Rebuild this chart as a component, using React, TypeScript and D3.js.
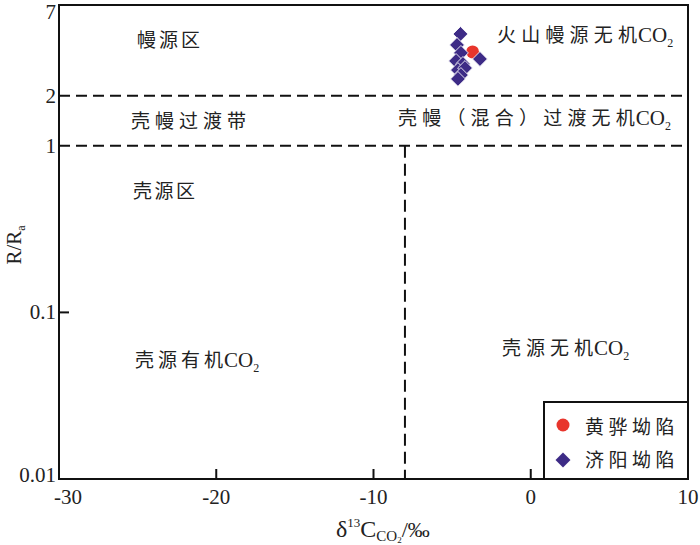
import React from "react";
import * as d3 from "d3";

const xTickValues = [-30, -20, -10, 0, 10];
const yTickValues = [7, 2, 1, 0.1, 0.01];
const yTickLabels = ["7", "2", "1", "0.1", "0.01"];
const horizBoundaries = [2, 1];
const vertBoundary = -8;

const huanghuaD13C = [-3.7];
const huanghuaR = [3.66];

const jiyangD13C = [-4.47, -4.69, -4.44, -4.75, -4.31, -4.63, -4.18, -4.44, -4.63, -3.23];
const jiyangR = [4.69, 4.03, 3.61, 3.23, 3.1, 2.85, 2.93, 2.66, 2.52, 3.32];

const legendNames = ["黄骅坳陷", "济阳坳陷"];

const W = 700;
const H = 545;
const L = 59, R = 688, T = 5, B = 479;

const CJK = "'Noto Sans CJK SC', 'Noto Sans', sans-serif";
const SERIF = "'Liberation Serif', 'DejaVu Serif', serif";
const PURPLE = "#3d2b86";
const RED = "#e8352c";

function Label({ x, y, text, co2, ls }: { x: number; y: number; text: string; co2?: boolean; ls: number }) {
  const head = text.slice(0, -1);
  const last = text.slice(-1);
  return (
    <text x={x} y={y} fill="#222">
      <tspan fontFamily={CJK} fontSize={19} letterSpacing={ls}>{head}</tspan>
      <tspan fontFamily={CJK} fontSize={19}>{last}</tspan>
      {co2 && <tspan fontFamily={SERIF} fontSize={21} dx={1}>CO</tspan>}
      {co2 && <tspan fontFamily={SERIF} fontSize={12} dy={5}>2</tspan>}
    </text>
  );
}

export default function App() {
  const x = d3.scaleLinear().domain([-30, 10]).range([L, R]);
  const y = d3.scaleLog().domain([0.01, 7]).range([B, T]);
  const diamond = d3.symbol().type(d3.symbolSquare).size(110)();
  const diamondLeg = d3.symbol().type(d3.symbolSquare).size(112)();

  const jiyang = jiyangD13C.map((v, i) => ({ x: v, y: jiyangR[i] }));
  const huanghua = huanghuaD13C.map((v, i) => ({ x: v, y: huanghuaR[i] }));

  const dash = "11,6";

  return (
    <svg width={W} height={H} style={{ position: "absolute", left: 0, top: 0, background: "#fff" }}>
      <rect x={0} y={0} width={W} height={H} fill="#fff" />
      {horizBoundaries.map((v) => (
        <line key={v} x1={L} x2={R} y1={y(v)} y2={y(v)} stroke="#111" strokeWidth={2} strokeDasharray={dash} />
      ))}
      <line x1={x(vertBoundary)} x2={x(vertBoundary)} y1={y(1)} y2={B} stroke="#111" strokeWidth={2} strokeDasharray="12,6" />

      {xTickValues.slice(1, -1).map((v) => (
        <line key={v} x1={x(v)} x2={x(v)} y1={B} y2={B - 10} stroke="#111" strokeWidth={2} />
      ))}
      <line x1={L} x2={L + 10} y1={y(0.1)} y2={y(0.1)} stroke="#111" strokeWidth={2} />

      <rect x={L} y={T} width={R - L} height={B - T} fill="none" stroke="#111" strokeWidth={2} />

      {xTickValues.map((v, i) => (
        <text key={v} x={x(v) + (i === 0 ? 9 : 0)} y={504} textAnchor="middle" fontFamily={SERIF} fontSize={21} fill="#222">
          {v}
        </text>
      ))}
      {yTickValues.map((v, i) => (
        <text key={v} x={L - 3} y={y(v) + (i === 0 ? 14 : i === 4 ? 3 : 7)} textAnchor="end" fontFamily={SERIF} fontSize={21} fill="#222">
          {yTickLabels[i]}
        </text>
      ))}

      <text transform={`translate(21,245) rotate(-90)`} textAnchor="middle" fontFamily={SERIF} fontSize={21} fill="#222">
        R/R<tspan fontSize={12} dy={4}>a</tspan>
      </text>
      <text x={336} y={537} fontFamily={SERIF} fontSize={24} fill="#222">
        δ<tspan fontSize={13} dy={-10}>13</tspan>
        <tspan fontSize={24} dy={10}>C</tspan>
        <tspan fontSize={15} dy={4}>CO</tspan>
        <tspan fontSize={9} dy={2}>2</tspan>
        <tspan fontSize={22} dy={-6}>/‰</tspan>
      </text>

      <Label x={137} y={47} text="幔源区" ls={3} />
      <Label x={497} y={42} text="火山幔源无机" co2 ls={5.2} />
      <Label x={131} y={128} text="壳幔过渡带" ls={5} />
      <Label x={398} y={125} text="壳幔（混合）过渡无机" co2 ls={5.2} />
      <Label x={133} y={198} text="壳源区" ls={2.5} />
      <Label x={135} y={367} text="壳源有机" co2 ls={4} />
      <Label x={502} y={355} text="壳源无机" co2 ls={5} />

      {huanghua.map((d, i) => (
        <circle key={"h" + i} cx={x(d.x)} cy={y(d.y)} r={6.5} fill={RED} />
      ))}
      {jiyang.map((d, i) => (
        <path key={"j" + i} d={diamond as string} transform={`translate(${x(d.x)},${y(d.y)}) rotate(45)`} fill={PURPLE} stroke="#fff" strokeWidth={0.8} />
      ))}

      <rect x={544} y={402} width={R - 544} height={B - 402} fill="#fff" stroke="#111" strokeWidth={2} />
      <circle cx={563} cy={425} r={6.5} fill={RED} />
      <path d={diamondLeg as string} transform="translate(563,460) rotate(45)" fill={PURPLE} />
      <Label x={585} y={434} text={legendNames[0]} ls={4.5} />
      <Label x={585} y={467} text={legendNames[1]} ls={4.5} />
    </svg>
  );
}
